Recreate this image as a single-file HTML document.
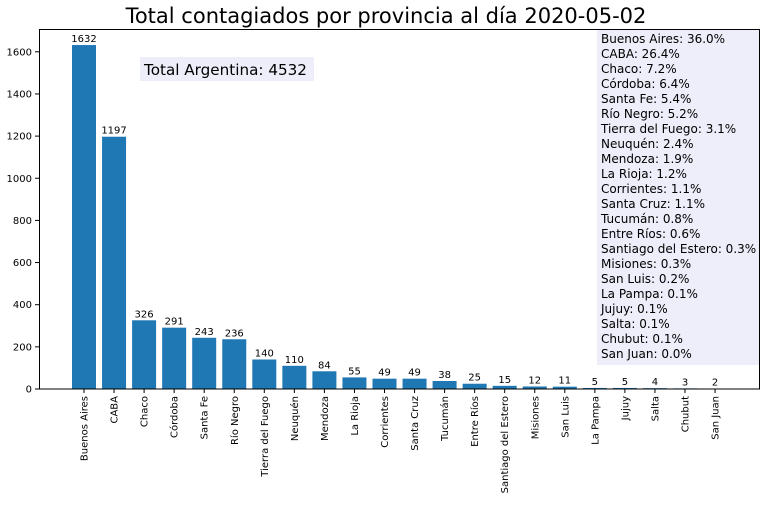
<!DOCTYPE html>
<html><head><meta charset="utf-8"><style>
body{margin:0;background:#fff;width:766px;height:500px;overflow:hidden}
svg{font-family:"DejaVu Sans","Liberation Sans",sans-serif}
</style></head><body>
<svg id="chart" width="766" height="500">
<text x="386" y="23" font-size="21" text-anchor="middle">Total contagiados por provincia al día 2020-05-02</text>
<g id="bars"></g>
<g id="yticks"></g>
<g id="xticks"></g>
<rect x="140" y="57" width="174" height="24" fill="#eeeefb"/>
<text x="144" y="75" font-size="15.2">Total Argentina: 4532</text>
<rect x="597" y="30" width="162" height="335" fill="#eeeefb"/>
<g id="pct"></g>
<rect x="39.5" y="29.5" width="720" height="359.5" fill="none" stroke="#000" stroke-width="1"/>
</svg>
<script>
const categories=["Buenos Aires","CABA","Chaco","Córdoba","Santa Fe","Río Negro","Tierra del Fuego","Neuquén","Mendoza","La Rioja","Corrientes","Santa Cruz","Tucumán","Entre Ríos","Santiago del Estero","Misiones","San Luis","La Pampa","Jujuy","Salta","Chubut","San Juan"];
const values=[1632,1197,326,291,243,236,140,110,84,55,49,49,38,25,15,12,11,5,5,4,3,2];
const yTicks=[0,200,400,600,800,1000,1200,1400,1600];
const NS="http://www.w3.org/2000/svg";
const y=v=>389-v*337.2/1600;
const x=i=>84+i*30.05;
function mk(tag,attrs,parent,text){const e=document.createElementNS(NS,tag);for(const k in attrs)e.setAttribute(k,attrs[k]);if(text!==undefined)e.textContent=text;parent.appendChild(e);return e;}
const bars=document.getElementById('bars'),yt=document.getElementById('yticks'),xt=document.getElementById('xticks'),pct=document.getElementById('pct');
const total=values.reduce((a,b)=>a+b,0);
categories.forEach((c,i)=>{
  const r=mk('rect',{x:x(i)-12,y:y(values[i]),width:24,height:389-y(values[i]),fill:'#1f77b4'},bars);
  
  
  const t=mk('text',{x:x(i),y:y(values[i])-3,'font-size':10,'text-anchor':'middle'},bars,values[i]);
  
  
  mk('line',{x1:x(i),x2:x(i),y1:389,y2:393,stroke:'#000'},xt);
  const l=mk('text',{transform:`translate(${x(i)+3.5},396) rotate(-90)`,'font-size':10,'text-anchor':'end'},xt,c);
  
  
  const p=mk('text',{x:601,y:43+i*15,'font-size':12},pct,c+': '+(values[i]/total*100).toFixed(1)+'%');
  
  
});
yTicks.forEach(v=>{
  mk('line',{x1:35,x2:39.5,y1:y(v),y2:y(v),stroke:'#000'},yt);
  const t=mk('text',{x:32,y:y(v)+3.5,'font-size':10,'text-anchor':'end'},yt,v);
  
  
});
</script>
</body></html>
